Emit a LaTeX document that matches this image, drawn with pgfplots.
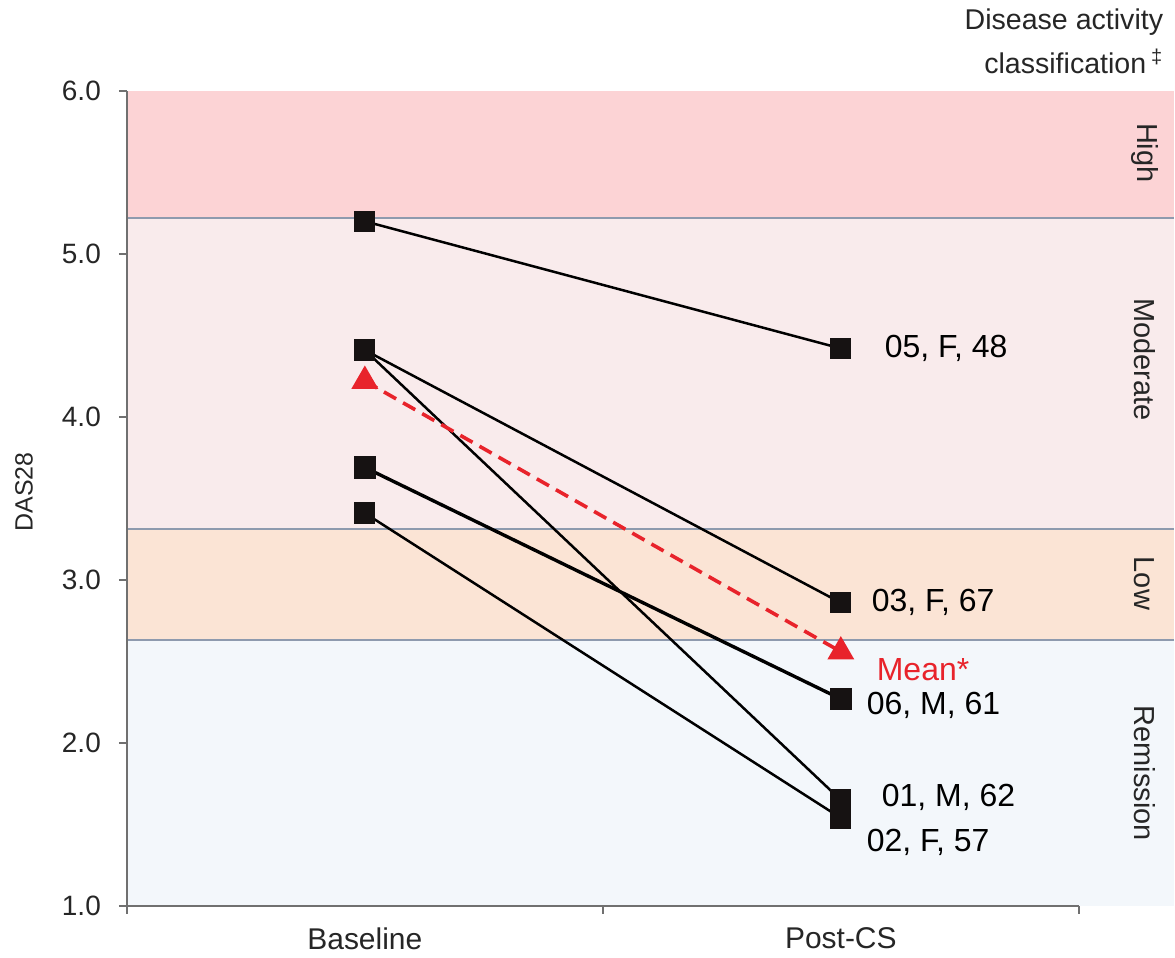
\documentclass[border=0pt]{standalone}
\usepackage{pgfplots}
\pgfplotsset{compat=1.18}
\usepackage{fontspec}
\setmainfont{Liberation Sans}
\definecolor{hi}{HTML}{FCD3D5}
\definecolor{mod}{HTML}{F9EBEC}
\definecolor{low}{HTML}{FBE4D5}
\definecolor{rem}{HTML}{F3F7FB}
\definecolor{divc}{HTML}{8E9AAE}
\definecolor{axc}{HTML}{707070}
\definecolor{mred}{HTML}{E8232B}
\definecolor{mk}{HTML}{161212}
\begin{document}
\begin{tikzpicture}
\begin{axis}[
  width=476.5pt, height=408pt, scale only axis,
  xmin=0, xmax=2, ymin=1, ymax=6,
  clip=false, axis on top,
  axis x line*=bottom, axis y line*=left,
  axis line style={axc, line width=1pt, -},
  tick style={axc, line width=1pt},
  major tick length=4pt, tick align=outside,
  ytick={1,2,3,4,5,6},
  /pgf/number format/assume math mode=true,
  yticklabel style={/pgf/number format/.cd, fixed, fixed zerofill, precision=1, /tikz/.cd, xshift=-5.5pt},
  tick label style={font=\fontsize{14}{16}\selectfont, text=black!85},
  xtick={0,1,2}, xticklabels={,,},
  extra x ticks={0.5,1.5},
  extra x tick labels={Baseline,Post-CS},
  extra x tick style={major tick length=0pt, tick label style={font=\fontsize{15}{17}\selectfont, yshift=-7.5pt}},
]
% bands
\addplot[draw=none, fill=hi] coordinates {(0,5.22) (2.2,5.22) (2.2,6) (0,6)} -- cycle;
\addplot[draw=none, fill=mod] coordinates {(0,3.31) (2.2,3.31) (2.2,5.22) (0,5.22)} -- cycle;
\addplot[draw=none, fill=low] coordinates {(0,2.63) (2.2,2.63) (2.2,3.31) (0,3.31)} -- cycle;
\addplot[draw=none, fill=rem] coordinates {(0,1) (2.2,1) (2.2,2.63) (0,2.63)} -- cycle;
\addplot[divc, line width=1pt] coordinates {(0,5.22) (2.2,5.22)};
\addplot[divc, line width=1pt] coordinates {(0,3.31) (2.2,3.31)};
\addplot[divc, line width=1pt] coordinates {(0,2.63) (2.2,2.63)};
% patients
\pgfplotsset{pat/.style={black, line width=1.25pt, mark=square*, mark size=4.7pt, mark options={fill=mk, draw=mk, solid}}}
\addplot[pat] coordinates {(0.5,5.20) (1.5,4.42)};
\addplot[pat] coordinates {(0.5,4.41) (1.5,2.86)};
\addplot[pat] coordinates {(0.5,4.41) (1.5,1.65)};
\addplot[pat, line width=1.7pt] coordinates {(0.5,3.69) (1.5,2.27)};
\addplot[pat] coordinates {(0.5,3.41) (1.5,1.54)};
% mean
\addplot[mred, line width=1.8pt, dash pattern=on 7pt off 4pt, mark=triangle*, mark size=6pt, mark options={solid, fill=mred, draw=mred}] coordinates {(0.5,4.22) (1.5,2.56)};
% labels
\def\lf{\fontsize{16}{18}\selectfont}
\node[anchor=west, font=\lf, xshift=18.5pt] at (axis cs:1.5,4.42) {05, F, 48};
\node[anchor=west, font=\lf, xshift=12pt] at (axis cs:1.5,2.86) {03, F, 67};
\node[anchor=west, font=\lf, text=mred, xshift=14.5pt, yshift=-9pt] at (axis cs:1.5,2.56) {Mean*};
\node[anchor=west, font=\lf, xshift=9.5pt, yshift=-3pt] at (axis cs:1.5,2.27) {06, M, 61};
\node[anchor=west, font=\lf, xshift=17pt, yshift=1.5pt] at (axis cs:1.5,1.65) {01, M, 62};
\node[anchor=west, font=\lf, xshift=9.5pt, yshift=-12pt] at (axis cs:1.5,1.54) {02, F, 57};
% band labels
\def\bf{\fontsize{14.5}{16}\selectfont}
\node[rotate=-90, font=\bf, text=black!85] at (axis cs:2.138,5.62) {High};
\node[rotate=-90, font=\bf, text=black!85] at (axis cs:2.138,4.352) {Moderate};
\node[rotate=-90, font=\bf, text=black!85] at (axis cs:2.138,2.979) {Low};
\node[rotate=-90, font=\bf, text=black!85] at (axis cs:2.138,1.815) {Remission};
% titles
\node[anchor=east, font=\fontsize{14.3}{16}\selectfont, text=black!85] at (axis cs:2.192,6.42) {Disease activity};
\node[anchor=east, font=\fontsize{14.3}{16}\selectfont, text=black!85] at (axis cs:2.192,6.18) {classification\,\textsuperscript{\ddag}};
\node[rotate=90, font=\fontsize{12.5}{14}\selectfont, text=black!85] at (axis cs:-0.216,3.54) {DAS28};
\path (axis cs:-0.2665,0.6814) rectangle (axis cs:2.1994,6.5576);
\end{axis}
\end{tikzpicture}
\end{document}
